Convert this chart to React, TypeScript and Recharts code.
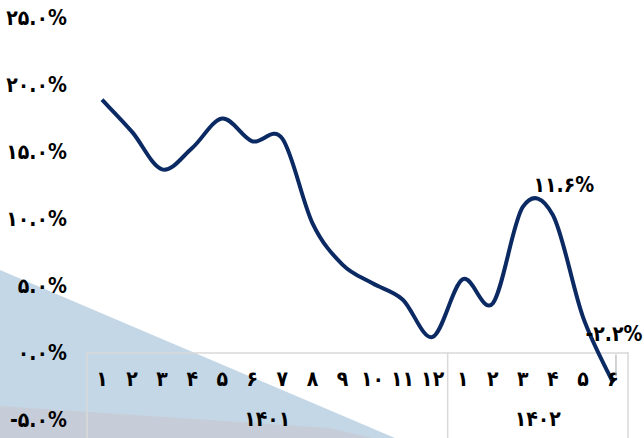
import React from 'react';
import { LabelList, Line, LineChart, ReferenceLine, XAxis, YAxis } from 'recharts';

const months = ['۱', '۲', '۳', '۴', '۵', '۶', '۷', '۸', '۹', '۱۰', '۱۱', '۱۲', '۱', '۲', '۳', '۴', '۵', '۶'];
const years = ['۱۴۰۱', '۱۴۰۱', '۱۴۰۱', '۱۴۰۱', '۱۴۰۱', '۱۴۰۱', '۱۴۰۱', '۱۴۰۱', '۱۴۰۱', '۱۴۰۱', '۱۴۰۱', '۱۴۰۱', '۱۴۰۲', '۱۴۰۲', '۱۴۰۲', '۱۴۰۲', '۱۴۰۲', '۱۴۰۲'];
const values = [18.9, 16.5, 13.7, 15.3, 17.5, 15.8, 16.0, 9.7, 6.6, 5.2, 4.0, 1.2, 5.5, 3.7, 10.9, 10.3, 2.7, -2.2];
const yTicks = [-5, 0, 5, 10, 15, 20, 25];
// labels as printed on the chart (index -> text value)
const labelIdx = [14, 17];
const labelVals = [11.6, -2.2];

const data = months.map((m, i) => ({ idx: i, month: m, year: years[i], value: values[i] }));
const xTicks = data.map((d) => d.idx);

const W = 644;
const H = 438;
const M = { top: 18, right: 16, bottom: 0, left: 0 };
const Y_W = 87;
const HALF = (W - M.left - M.right - Y_W) / months.length / 2;

const FONT = '"DejaVu Sans Condensed", "DejaVu Sans", sans-serif';
const FS = 21;
const GRID = '#d9d9d9';

const fa = (s: string) => s.replace(/[0-9]/g, (d) => '۰۱۲۳۴۵۶۷۸۹'[+d]);
const pct = (v: number) => fa(v.toFixed(1)) + '%';

// Excel-like smoothed line (cardinal / catmull-rom, tension 1/6)
const excelCurve = (ctx: any) => {
    let pts: number[][] = [];
    return {
        areaStart() {},
        areaEnd() {},
        lineStart() {
            pts = [];
        },
        point(x: number, y: number) {
            pts.push([+x, +y]);
        },
        lineEnd() {
            if (!pts.length) return;
            ctx.moveTo(pts[0][0], pts[0][1]);
            for (let i = 0; i < pts.length - 1; i++) {
                const p0 = pts[i - 1] || pts[i];
                const p1 = pts[i];
                const p2 = pts[i + 1];
                const p3 = pts[i + 2] || pts[i + 1];
                ctx.bezierCurveTo(
                    p1[0] + (p2[0] - p0[0]) / 6,
                    p1[1] + (p2[1] - p0[1]) / 6,
                    p2[0] - (p3[0] - p1[0]) / 6,
                    p2[1] - (p3[1] - p1[1]) / 6,
                    p2[0],
                    p2[1],
                );
            }
        },
    };
};

const YTick = (props: any) => {
    const { x, y, payload } = props;
    return (
        <text x={x - 12} y={y} dy={7} textAnchor="end" fontFamily={FONT} fontWeight="bold" fontSize={FS} fill="#000">
            {pct(payload.value)}
        </text>
    );
};

const MonthTick = (props: any) => {
    const { x, y, payload } = props;
    const index = payload.value as number;
    const yr = years[index];
    const start = years.indexOf(yr);
    const count = years.filter((v) => v === yr).length;
    const isLast = index === start + count - 1;
    const mid = start + Math.ceil(count / 2) - 1;
    return (
        <g>
            <text x={x} y={y - 34} textAnchor="middle" fontFamily={FONT} fontWeight="bold" fontSize={FS} fill="#000">
                {months[index]}
            </text>
            {index === mid && (
                <text
                    x={count % 2 === 0 ? x + HALF : x}
                    y={y + 6}
                    textAnchor="middle"
                    fontFamily={FONT}
                    fontWeight="bold"
                    fontSize={FS}
                    fill="#000">
                    {yr}
                </text>
            )}
            {index === 0 && <line x1={x - HALF} x2={x - HALF} y1={y - 68} y2={y + 18} stroke={GRID} strokeWidth={1.5} />}
            {isLast && <line x1={x + HALF} x2={x + HALF} y1={y - 68} y2={y + 18} stroke={GRID} strokeWidth={1.5} />}
        </g>
    );
};

const PointLabel = (props: any) => {
    const { x, y, index } = props;
    const k = labelIdx.indexOf(index);
    if (k < 0) return null;
    const text = pct(labelVals[k]);
    if (index === values.length - 1) {
        return (
            <g>
                <line x1={x + 3} x2={x + 3} y1={y - 28} y2={y - 6} stroke="#a6a6a6" strokeWidth={1} />
                <text x={x + 1} y={y - 41} textAnchor="middle" fontFamily={FONT} fontWeight="bold" fontSize={FS} fill="#000">
                    {text}
                </text>
            </g>
        );
    }
    return (
        <text x={x + 41} y={y - 15} textAnchor="middle" fontFamily={FONT} fontWeight="bold" fontSize={FS} fill="#000">
            {text}
        </text>
    );
};

export default function App() {
    return (
        <div style={{ position: 'fixed', left: 0, top: 0, width: W, height: H, background: '#fff', overflow: 'hidden' }}>
            <svg width={W} height={H} style={{ position: 'absolute', left: 0, top: 0 }}>
                <polygon points="0,270 395,438 0,438" fill="#c4d7e6" />
                <polygon points="0,406 330,428 372,438 0,438" fill="#c7cdd8" />
            </svg>
            <div style={{ position: 'absolute', left: 0, top: 0 }}>
                <LineChart width={W} height={H} data={data} margin={M}>
                    <XAxis
                        dataKey="idx"
                        type="number"
                        domain={[-0.5, months.length - 0.5]}
                        ticks={xTicks}
                        height={18}
                        axisLine={false}
                        tickLine={false}
                        tickSize={0}
                        tickMargin={0}
                        interval={0}
                        tick={(p: any) => <MonthTick {...p} />}
                    />
                    <YAxis
                        width={Y_W}
                        domain={[-5, 25]}
                        ticks={yTicks}
                        axisLine={false}
                        tickLine={false}
                        tick={(p: any) => <YTick {...p} />}
                    />
                    <ReferenceLine y={0} stroke={GRID} strokeWidth={1.5} />
                    <Line
                        dataKey="value"
                        type={excelCurve as any}
                        stroke="#0b2a63"
                        strokeWidth={4}
                        dot={false}
                        isAnimationActive={false}>
                        <LabelList dataKey="value" content={(p: any) => <PointLabel {...p} />} />
                    </Line>
                </LineChart>
            </div>
        </div>
    );
}
